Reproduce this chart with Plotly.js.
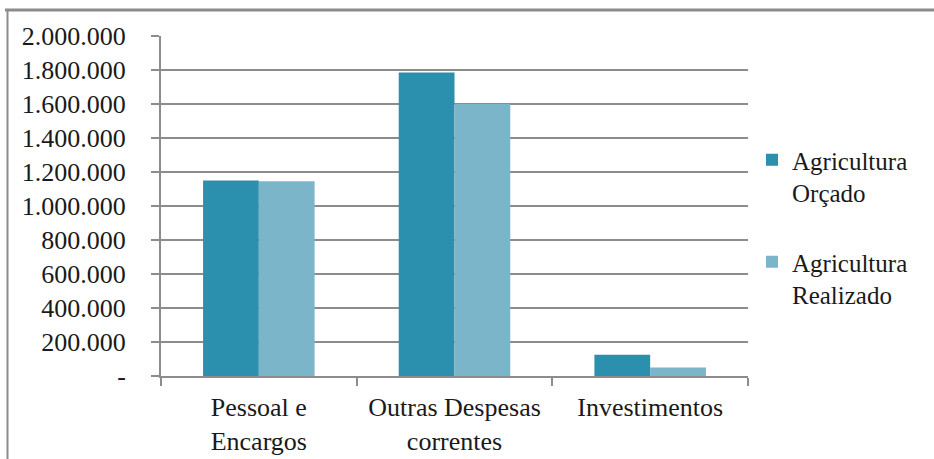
<!DOCTYPE html>
<html>
<head>
<meta charset="utf-8">
<script src="https://cdn.plot.ly/plotly-3.0.1.min.js"></script>
<style>
html,body{margin:0;padding:0;background:#fff;}
#chart{width:934px;height:459px;}
</style>
</head>
<body>
<div id="chart"></div>
<script>
const categories = ["Pessoal e<br>Encargos", "Outras Despesas<br>correntes", "Investimentos"];
const orcado = [1150000, 1785000, 125000];
const realizado = [1145000, 1600000, 50000];
const seriesNames = ["Agricultura<br>Orçado", "Agricultura<br>Realizado"];
const yTickVals = [0, 200000, 400000, 600000, 800000, 1000000, 1200000, 1400000, 1600000, 1800000, 2000000];
const yTickText = ["-", "200.000", "400.000", "600.000", "800.000", "1.000.000", "1.200.000", "1.400.000", "1.600.000", "1.800.000", "2.000.000"];

const fontFam = "Liberation Serif, Tinos, DejaVu Serif, serif";
const gridCol = "#8c8c8c";

const traces = [
  {type: "bar", name: seriesNames[0], x: categories, y: orcado, legendgroup: "a",
   marker: {color: "#2a90ad", line: {width: 0}}},
  {type: "bar", name: seriesNames[1], x: categories, y: realizado, legendgroup: "b",
   marker: {color: "#7ab5c9", line: {width: 0}}}
];

const W = 934, H = 459, L = 161, R = 186, T = 36, B = 83;
const pw = W - L - R, ph = H - T - B;
const px2x = p => (p - L) / pw;
const py2y = p => (H - B - p) / ph;

const layout = {
  width: W, height: H,
  margin: {l: L, r: R, t: T, b: B, pad: 0},
  paper_bgcolor: "#fff", plot_bgcolor: "#fff",
  font: {family: fontFam, size: 26, color: "#1a1a1a"},
  barmode: "group",
  bargap: 0.43, bargroupgap: 0,
  showlegend: true,
  legend: {x: px2x(752), xanchor: "left", y: py2y(137), yanchor: "top",
           font: {family: fontFam, size: 25, color: "#1a1a1a"},
           tracegroupgap: 34, valign: "top", bgcolor: "rgba(0,0,0,0)"},
  xaxis: {type: "category", showline: true, linecolor: gridCol, linewidth: 2,
          ticks: "outside", tickson: "boundaries", ticklen: 8, tickcolor: gridCol, tickwidth: 2,
          showgrid: false, ticklabelstandoff: 7, fixedrange: true,
          tickfont: {family: fontFam, size: 26, color: "#1a1a1a"}},
  yaxis: {range: [0, 2000000], tickvals: yTickVals, ticktext: yTickText,
          showline: true, linecolor: gridCol, linewidth: 2,
          ticks: "outside", ticklen: 8, tickcolor: gridCol, tickwidth: 2,
          showgrid: true, gridcolor: gridCol, gridwidth: 2, zeroline: false,
          ticklabelstandoff: 20, fixedrange: true,
          tickfont: {family: fontFam, size: 26, color: "#1a1a1a"}},
  shapes: [
    {type: "line", xref: "paper", yref: "paper", x0: px2x(5), x1: px2x(940), y0: py2y(10), y1: py2y(10),
     line: {color: "#8c8c8c", width: 3}},
    {type: "line", xref: "paper", yref: "paper", x0: px2x(7.5), x1: px2x(7.5), y0: py2y(9), y1: py2y(470),
     line: {color: "#8c8c8c", width: 2}}
  ]
};

Plotly.newPlot("chart", traces, layout, {displayModeBar: false, staticPlot: true});
</script>
</body>
</html>
